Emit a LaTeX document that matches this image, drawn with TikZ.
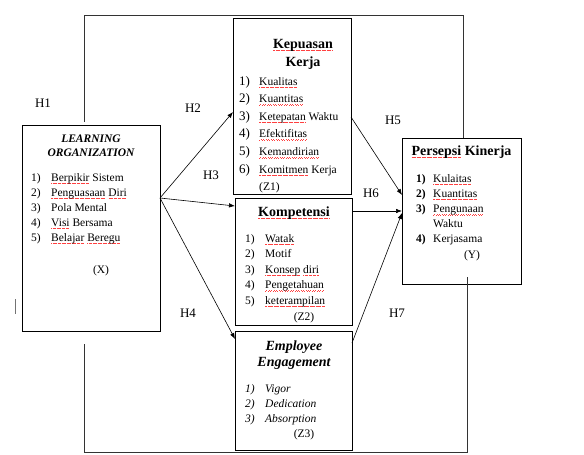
\documentclass[tikz,border=0pt]{standalone}
\usepackage{fontspec}
\setmainfont{Liberation Serif}
\usetikzlibrary{arrows.meta}
\newcommand\sq[1]{\leavevmode\setbox0\hbox{#1}\rlap{\color{red!75}\raisebox{-2.6pt}{\hbox to\wd0{\xleaders\hbox to 2.4pt{\rule{0.7pt}{0.45pt}\hss\rule[0.55pt]{0.7pt}{0.45pt}\hss}\hfill}}}\box0\relax}
\tikzset{
  box/.style={draw, line width=0.8pt, rectangle, inner sep=0pt, outer sep=0pt, anchor=north west},
  body/.style={font=\fontsize{11.5}{15}\selectfont, inner sep=0pt, anchor=base west},
  code/.style={font=\fontsize{11.5}{15}\selectfont, inner sep=0pt, anchor=base},
  ttl/.style={font=\fontsize{14}{18}\selectfont\bfseries, inner sep=0pt, anchor=base},
  hl/.style={font=\fontsize{13}{15}\selectfont, inner sep=0pt, anchor=base},
  arr/.style={-{Latex[length=6pt,width=4.5pt]}, line width=0.6pt},
  ln/.style={line width=0.8pt, draw=black!80},
}
\begin{document}
\begin{tikzpicture}[x=1pt,y=-1pt]
\useasboundingbox (0,0) rectangle (584,455);
% boxes
\node[box, minimum width=138pt, minimum height=206pt] (lo) at (22,125) {};
\node[box, minimum width=118pt, minimum height=176pt] (kep) at (233,18) {};
\node[box, minimum width=117pt, minimum height=127pt] (kom) at (235,198) {};
\node[box, minimum width=117pt, minimum height=119pt] (emp) at (235,331) {};
\node[box, minimum width=119pt, minimum height=146pt] (ps) at (402,138) {};
% Learning organization
\node[ttl, font=\fontsize{11.5}{14}\selectfont\bfseries\itshape] (lot) at (91,142)
  {\begin{tabular}[t]{@{}c@{}}LEARNING\\ORGANIZATION\end{tabular}};
\node[body] (lol) at (31,181) {\begin{tabular}[t]{@{}l@{}}
  \makebox[20pt][l]{1)}\sq{Berpikir} Sistem\\
  \makebox[20pt][l]{2)}\sq{Penguasaan} \sq{Diri}\\
  \makebox[20pt][l]{3)}Pola Mental\\
  \makebox[20pt][l]{4)}\sq{Visi} Bersama\\
  \makebox[20pt][l]{5)}\sq{Belajar} \sq{Beregu}
\end{tabular}};
\node[code] (lox) at (101,273) {(X)};
% Kepuasan kerja
\node[ttl] (kept) at (303,48)
  {\begin{tabular}[t]{@{}c@{}}\sq{Kepuasan}\\Kerja\end{tabular}};
\node[body, font=\fontsize{11.5}{17.6}\selectfont] (kepl) at (239,85) {\begin{tabular}[t]{@{}l@{}}
  \makebox[20pt][l]{\fontsize{13}{17.6}\selectfont 1)}\sq{Kualitas}\\
  \makebox[20pt][l]{\fontsize{13}{17.6}\selectfont 2)}\sq{Kuantitas}\\
  \makebox[20pt][l]{\fontsize{13}{17.6}\selectfont 3)}\sq{Ketepatan} Waktu\\
  \makebox[20pt][l]{\fontsize{13}{17.6}\selectfont 4)}\sq{Efektifitas}\\
  \makebox[20pt][l]{\fontsize{13}{17.6}\selectfont 5)}\sq{Kemandirian}\\
  \makebox[20pt][l]{\fontsize{13}{17.6}\selectfont 6)}\sq{Komitmen} Kerja\\
  \makebox[20pt][l]{}(Z1)
\end{tabular}};
% Kompetensi
\node[ttl] (komt) at (294,216) {\sq{Kompetensi}};
\node[body, font=\fontsize{11.5}{15.5}\selectfont] (koml) at (245,242) {\begin{tabular}[t]{@{}l@{}}
  \makebox[20pt][l]{1)}\sq{Watak}\\
  \makebox[20pt][l]{2)}Motif\\
  \makebox[20pt][l]{3)}\sq{Konsep} \sq{diri}\\
  \makebox[20pt][l]{4)}\sq{Pengetahuan}\\
  \makebox[20pt][l]{5)}\sq{keterampilan}
\end{tabular}};
\node[code] (komz) at (304,320) {(Z2)};
% Employee engagement
\node[ttl, font=\fontsize{14}{16}\selectfont\bfseries\itshape] (empt) at (294,350)
  {\begin{tabular}[t]{@{}c@{}}Employee\\Engagement\end{tabular}};
\node[body, font=\fontsize{11.5}{15}\selectfont\itshape] (empl) at (245,392) {\begin{tabular}[t]{@{}l@{}}
  \makebox[20pt][l]{1)}Vigor\\
  \makebox[20pt][l]{2)}Dedication\\
  \makebox[20pt][l]{3)}Absorption
\end{tabular}};
\node[code] (empz) at (304,437) {(Z3)};
% Persepsi kinerja
\node[ttl] (pst) at (461.5,155) {\sq{Persepsi} Kinerja};
\node[body, font=\fontsize{11.5}{15.2}\selectfont] (psl) at (416,182) {\begin{tabular}[t]{@{}l@{}}
  \makebox[17pt][l]{\bfseries 1)}\sq{Kulaitas}\\
  \makebox[17pt][l]{\bfseries 2)}\sq{Kuantitas}\\
  \makebox[17pt][l]{\bfseries 3)}\sq{Pengunaan}\\
  \makebox[17pt][l]{}Waktu\\
  \makebox[17pt][l]{\bfseries 4)}Kerjasama
\end{tabular}};
\node[code] (psy) at (472,258) {(Y)};
% H1 frame lines
\coordinate (h1tr) at (463,15);
\coordinate (h1br) at (467,452);
\draw[ln] ([xshift=-7pt,yshift=3pt]lo.north) |- (h1tr) -- (h1tr |- ps.north);
\draw[ln] ([xshift=-7pt,yshift=-13pt]lo.south) |- (h1br) -- ([xshift=5.5pt,yshift=7pt]ps.south);
\draw[line width=0.8pt, black!55] (15,299) -- (15,314);
% arrows
\coordinate (los) at ([yshift=-73pt]lo.north east);
\draw[arr] (los) -- ([yshift=-94pt]kep.north west);
\draw[arr] (los) -- ([yshift=-8pt]kom.north west);
\draw[arr] (los) -- ([yshift=-8pt]emp.north west);
\draw[arr] ([yshift=-99pt]kep.north east) -- ([yshift=-57pt]ps.north west);
\draw[arr] ([yshift=-13pt]kom.north east) -- ([yshift=-73pt]ps.north west);
\draw[arr] ([yshift=-12pt]emp.north east) -- ([yshift=-75pt]ps.north west);
% labels
\node[hl] (h1) at (43,107) {H1};
\node[hl] (h2) at (193,112) {H2};
\node[hl] (h3) at (211,179) {H3};
\node[hl] (h4) at (188,317) {H4};
\node[hl] (h5) at (393,124) {H5};
\node[hl] (h6) at (371,197) {H6};
\node[hl] (h7) at (397,317) {H7};
\end{tikzpicture}
\end{document}
